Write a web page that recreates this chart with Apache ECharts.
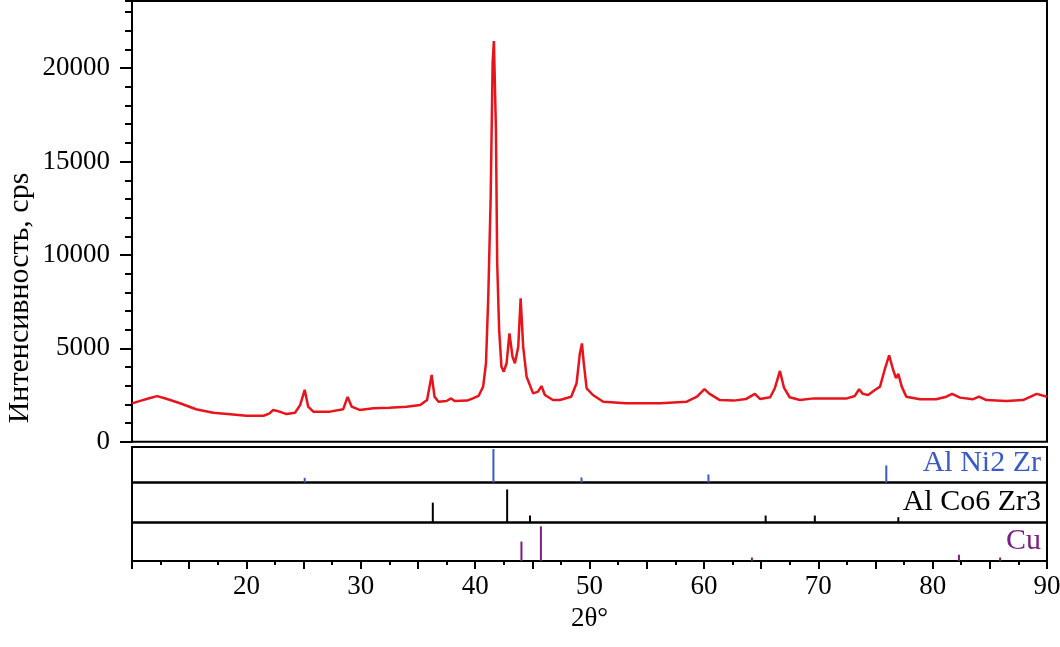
<!DOCTYPE html>
<html>
<head>
<meta charset="utf-8">
<script src="https://cdn.jsdelivr.net/npm/echarts/dist/echarts.min.js"></script>
<style>
  html, body { margin: 0; padding: 0; background: #fff; }
  #chart { width: 1060px; height: 647px; }
</style>
</head>
<body>
<div id="chart"></div>
<script>
// XRD pattern, 2theta (deg) and intensity (cps)
const theta = [10.0, 10.8, 11.5, 12.2, 13.0, 14.2, 15.6, 17.1, 18.6, 20.0, 21.5, 22.0, 22.35, 22.9, 23.5,
  24.25, 24.7, 25.1, 25.4, 25.85, 27.3, 28.47, 28.85, 29.2, 29.9, 31.1, 32.5, 34.0, 35.2, 35.8, 36.2,
  36.45, 36.8, 37.5, 37.9, 38.2, 39.3, 39.8, 40.3, 40.7, 40.95, 41.15, 41.36, 41.53, 41.64, 41.82,
  41.93, 42.1, 42.3, 42.5, 42.75, 43.0, 43.27, 43.48, 43.77, 43.98, 44.2, 44.5, 45.07, 45.5, 45.8,
  46.1, 46.8, 47.4, 48.4, 48.87, 49.16, 49.34, 49.5, 49.75, 50.3, 51.2, 53.2, 56.2, 58.5, 59.4, 60.05,
  60.5, 61.4, 62.6, 63.7, 64.46, 64.9, 65.8, 66.2, 66.65, 67.0, 67.5, 68.4, 69.6, 71.0, 72.5, 73.2,
  73.57, 73.9, 74.36, 74.95, 75.4, 75.8, 76.2, 76.55, 76.8, 77.0, 77.3, 77.7, 78.9, 80.3, 81.2, 81.7,
  82.4, 83.5, 84.05, 84.7, 86.45, 87.9, 89.1, 90.0];
const intensity = [2050, 2200, 2330, 2440, 2300, 2060, 1740, 1550, 1470, 1390, 1390, 1500, 1700, 1610, 1480,
  1550, 1960, 2780, 1880, 1610, 1610, 1740, 2400, 1880, 1700, 1790, 1820, 1870, 1960, 2230, 3570,
  2410, 2140, 2180, 2320, 2180, 2200, 2320, 2450, 2950, 4200, 7770, 13100, 20300, 21450, 16700,
  9550, 5980, 4020, 3750, 4200, 5800, 4550, 4200, 5090, 7680, 5090, 3480, 2590, 2680, 2980,
  2500, 2230, 2230, 2410, 3130, 4740, 5260, 4200, 2860, 2500, 2140, 2060, 2060, 2140, 2410, 2820,
  2560, 2230, 2200, 2290, 2560, 2290, 2380, 2860, 3790, 2900, 2380, 2230, 2320, 2320, 2320, 2450,
  2810, 2560, 2500, 2770, 2950, 3840, 4620, 3840, 3400, 3630, 2950, 2410, 2270, 2270, 2410, 2560,
  2360, 2270, 2410, 2230, 2180, 2230, 2560, 2410];

// reference phases: stick positions and relative heights
const phaseNames = ['Al Ni2 Zr', 'Al Co6 Zr3', 'Cu'];
const niPos = [25.1, 41.6, 49.3, 60.4, 75.95];
const niInt = [14, 100, 15, 24, 51];
const coPos = [36.3, 42.8, 44.8, 65.4, 69.7, 77.0];
const coInt = [60, 100, 21, 21, 21, 16];
const cuPos = [44.05, 45.75, 64.2, 82.3, 85.9];
const cuInt = [56, 100, 10, 18, 10];

const yTitle = 'Интенсивность, cps';
const xTitle = '2θ°';

const pairs = (xs, ys) => xs.map((x, i) => [x, ys[i]]);
const font = 'Liberation Serif';

const chart = echarts.init(document.getElementById('chart'));

const gridBox = {left: 132, right: 13, show: true, borderColor: '#000', borderWidth: 2,
  containLabel: false, outerBoundsMode: 'none'};
const plainX = i => ({
  type: 'value', gridIndex: i, min: 10, max: 90,
  axisLine: {show: false}, axisTick: {show: false}, axisLabel: {show: false}, splitLine: {show: false}
});
const panelY = (i, max) => ({type: 'value', gridIndex: i, min: 0, max: max, show: false});
const phaseTitle = (text, top, color) => ({
  text: text, right: 19, top: top, padding: 0,
  textStyle: {fontFamily: font, fontWeight: 'normal', fontSize: 30, color: color}
});

chart.setOption({
  animation: false,
  backgroundColor: '#fff',
  title: [
    phaseTitle(phaseNames[0], 448, '#3a5bc7'),
    phaseTitle(phaseNames[1], 487, '#000'),
    phaseTitle(phaseNames[2], 526, '#7d1d86')
  ],
  // y axis title sits lower than the axis middle in the original
  graphic: [{
    type: 'text', x: 20, y: 298, rotation: Math.PI / 2,
    style: {text: yTitle, align: 'center', verticalAlign: 'middle',
      fontFamily: font, fontSize: 30, fill: '#000'}
  }],
  grid: [
    Object.assign({top: 1, height: 440.7}, gridBox),
    Object.assign({top: 447, height: 35.5}, gridBox),
    Object.assign({top: 482.5, height: 40}, gridBox),
    Object.assign({top: 522.5, height: 38.5}, gridBox)
  ],
  xAxis: [
    plainX(0), plainX(1), plainX(2),
    {
      type: 'value', gridIndex: 3, min: 10, max: 90, interval: 5,
      name: xTitle, nameLocation: 'middle', nameGap: 44,
      nameTextStyle: {fontFamily: font, fontSize: 27, color: '#000'},
      axisLine: {lineStyle: {color: '#000', width: 2}},
      axisTick: {length: 8, lineStyle: {color: '#000', width: 2}},
      minorTick: {show: true, splitNumber: 2, length: 4, lineStyle: {color: '#000', width: 2}},
      splitLine: {show: false},
      axisLabel: {
        fontFamily: font, fontSize: 27, color: '#000', margin: 12,
        formatter: v => (v % 10 === 0 && v !== 10) ? String(v) : ''
      }
    }
  ],
  yAxis: [
    {
      type: 'value', gridIndex: 0, position: 'left', offset: 0, min: 0, max: 23600, interval: 1000,
      axisLine: {show: true, lineStyle: {color: '#000', width: 2}},
      axisTick: {length: 7, lineStyle: {color: '#000', width: 2}},
      axisLabel: {show: false}, splitLine: {show: false}
    },
    {
      type: 'value', gridIndex: 0, position: 'left', offset: 0, min: 0, max: 23600, interval: 5000,
      axisLine: {show: false},
      axisTick: {length: 12, lineStyle: {color: '#000', width: 2}},
      axisLabel: {fontFamily: font, fontSize: 27, color: '#000', margin: 22, showMaxLabel: false,
        formatter: v => String(v)},
      splitLine: {show: false}
    },
    panelY(1, 106), panelY(2, 121), panelY(3, 111)
  ],
  series: [
    {
      type: 'line', xAxisIndex: 0, yAxisIndex: 0,
      data: pairs(theta, intensity), showSymbol: false,
      lineStyle: {color: '#e8141c', width: 2.5}
    },
    {type: 'bar', xAxisIndex: 1, yAxisIndex: 2, barWidth: 2,
      data: pairs(niPos, niInt), itemStyle: {color: '#3a5bc7'}},
    {type: 'bar', xAxisIndex: 2, yAxisIndex: 3, barWidth: 2,
      data: pairs(coPos, coInt), itemStyle: {color: '#000'}},
    {type: 'bar', xAxisIndex: 3, yAxisIndex: 4, barWidth: 2,
      data: pairs(cuPos, cuInt), itemStyle: {color: '#7d1d86'}}
  ]
});
</script>
</body>
</html>
